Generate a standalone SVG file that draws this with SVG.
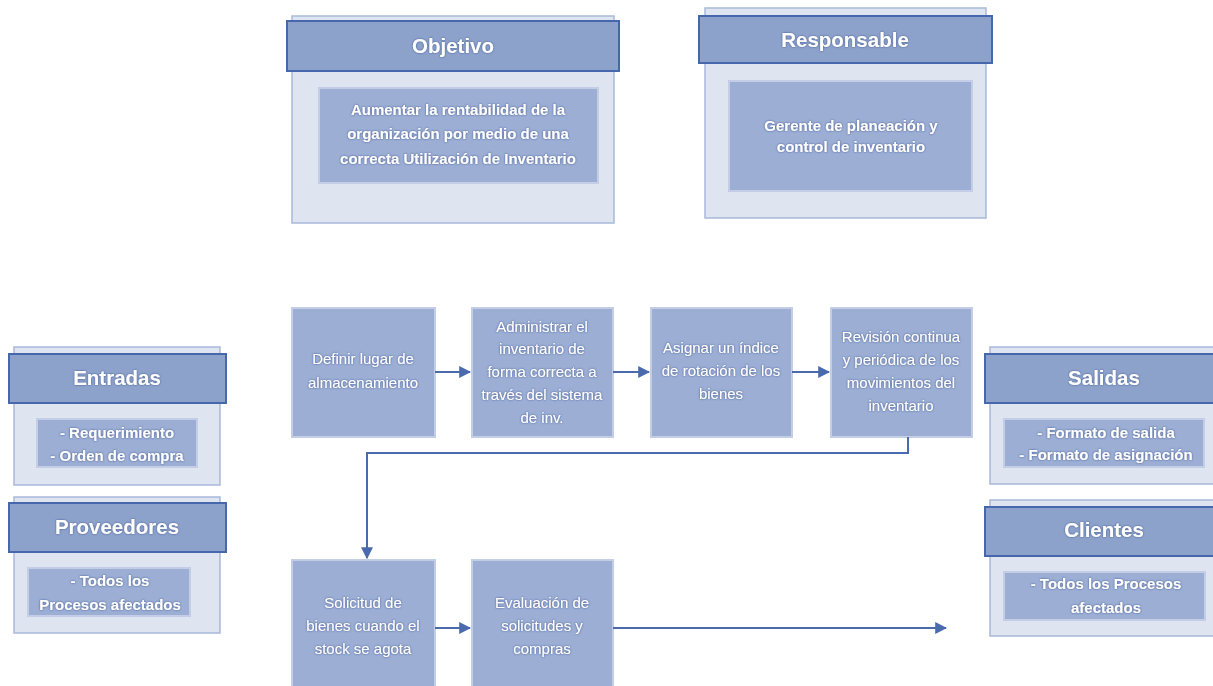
<svg xmlns="http://www.w3.org/2000/svg" width="1213" height="686" viewBox="0 0 1213 686">
<defs>
<style>
.panel{fill:#DEE4F0;stroke:#A9B9DA;stroke-width:1.5}
.head{fill:#8DA2CB;stroke:#4767AC;stroke-width:2}
.inner{fill:#9CAED4;stroke:#C3CEE6;stroke-width:2}
.proc{fill:#9CAED4;stroke:#C3CEE6;stroke-width:2}
.ht{font-family:"Liberation Sans",Arial,sans-serif;font-weight:bold;font-size:20.5px;fill:#fff;text-anchor:middle;filter:url(#sh)}
.it{font-family:"Liberation Sans",Arial,sans-serif;font-weight:bold;font-size:15px;fill:#fff;text-anchor:middle;filter:url(#sh)}
.pt{font-family:"Liberation Sans",Arial,sans-serif;font-size:15px;fill:#fff;text-anchor:middle;filter:url(#sh)}
.ln{fill:none;stroke:#4A6AAE;stroke-width:2}
</style>
<filter id="sh" x="-10%" y="-30%" width="120%" height="160%">
<feDropShadow dx="0" dy="0" stdDeviation="1.3" flood-color="#3B5592" flood-opacity="0.95"/>
</filter>
<marker id="ah" viewBox="0 0 10 10" refX="9" refY="5" markerWidth="6" markerHeight="6" orient="auto" markerUnits="strokeWidth">
<path d="M0,0 L10,5 L0,10 z" fill="#4A6AAE"/>
</marker>
</defs>
<rect width="1213" height="686" fill="#fff"/>

<g id="objetivo">
<rect class="panel" x="292" y="16" width="322" height="207"/>
<rect class="head" x="287" y="21" width="332" height="50"/>
<text class="ht" x="453" y="53">Objetivo</text>
<rect class="inner" x="319" y="88" width="279" height="95"/>
<text class="it" x="458" y="115">Aumentar la rentabilidad de la</text>
<text class="it" x="458" y="139">organización por medio de una</text>
<text class="it" x="458" y="164">correcta Utilización de Inventario</text>
</g>

<g id="responsable">
<rect class="panel" x="705" y="8" width="281" height="210"/>
<rect class="head" x="699" y="16" width="293" height="47"/>
<text class="ht" x="845" y="47">Responsable</text>
<rect class="inner" x="729" y="81" width="243" height="110"/>
<text class="it" x="851" y="131">Gerente de planeación y</text>
<text class="it" x="851" y="152">control de inventario</text>
</g>

<g id="entradas">
<rect class="panel" x="14" y="347" width="206" height="138"/>
<rect class="head" x="9" y="354" width="217" height="49"/>
<text class="ht" x="117" y="385">Entradas</text>
<rect class="inner" x="37" y="419" width="160" height="48"/>
<text class="it" x="117" y="438">- Requerimiento</text>
<text class="it" x="117" y="461">- Orden de compra</text>
</g>

<g id="proveedores">
<rect class="panel" x="14" y="497" width="206" height="136"/>
<rect class="head" x="9" y="503" width="217" height="49"/>
<text class="ht" x="117" y="534">Proveedores</text>
<rect class="inner" x="28" y="568" width="162" height="48"/>
<text class="it" x="110" y="586">- Todos los</text>
<text class="it" x="110" y="610">Procesos afectados</text>
</g>

<g id="salidas">
<rect class="panel" x="990" y="347" width="230" height="137"/>
<rect class="head" x="985" y="354" width="235" height="49"/>
<text class="ht" x="1104" y="385">Salidas</text>
<rect class="inner" x="1004" y="419" width="200" height="48"/>
<text class="it" x="1106" y="438">- Formato de salida</text>
<text class="it" x="1106" y="460">- Formato de asignación</text>
</g>

<g id="clientes">
<rect class="panel" x="990" y="500" width="230" height="136"/>
<rect class="head" x="985" y="507" width="235" height="49"/>
<text class="ht" x="1104" y="537">Clientes</text>
<rect class="inner" x="1004" y="572" width="201" height="48"/>
<text class="it" x="1106" y="589">- Todos los Procesos</text>
<text class="it" x="1106" y="613">afectados</text>
</g>

<g id="p1">
<rect class="proc" x="292" y="308" width="143" height="129"/>
<text class="pt" x="363" y="364">Definir lugar de</text>
<text class="pt" x="363" y="388">almacenamiento</text>
</g>
<g id="p2">
<rect class="proc" x="472" y="308" width="141" height="129"/>
<text class="pt" x="542" y="332">Administrar el</text>
<text class="pt" x="542" y="354">inventario de</text>
<text class="pt" x="542" y="377">forma correcta a</text>
<text class="pt" x="542" y="400">través del sistema</text>
<text class="pt" x="542" y="423">de inv.</text>
</g>
<g id="p3">
<rect class="proc" x="651" y="308" width="141" height="129"/>
<text class="pt" x="721" y="353">Asignar un índice</text>
<text class="pt" x="721" y="376">de rotación de los</text>
<text class="pt" x="721" y="399">bienes</text>
</g>
<g id="p4">
<rect class="proc" x="831" y="308" width="141" height="129"/>
<text class="pt" x="901" y="342">Revisión continua</text>
<text class="pt" x="901" y="365">y periódica de los</text>
<text class="pt" x="901" y="388">movimientos del</text>
<text class="pt" x="901" y="411">inventario</text>
</g>
<g id="p5">
<rect class="proc" x="292" y="560" width="143" height="130"/>
<text class="pt" x="363" y="608">Solicitud de</text>
<text class="pt" x="363" y="631">bienes cuando el</text>
<text class="pt" x="363" y="654">stock se agota</text>
</g>
<g id="p6">
<rect class="proc" x="472" y="560" width="141" height="130"/>
<text class="pt" x="542" y="608">Evaluación de</text>
<text class="pt" x="542" y="631">solicitudes y</text>
<text class="pt" x="542" y="654">compras</text>
</g>

<g id="connectors">
<line class="ln" x1="435" y1="372" x2="470" y2="372" marker-end="url(#ah)"/>
<line class="ln" x1="613" y1="372" x2="649" y2="372" marker-end="url(#ah)"/>
<line class="ln" x1="792" y1="372" x2="829" y2="372" marker-end="url(#ah)"/>
<polyline class="ln" points="908,437 908,453 367,453 367,558" marker-end="url(#ah)"/>
<line class="ln" x1="435" y1="628" x2="470" y2="628" marker-end="url(#ah)"/>
<line class="ln" x1="613" y1="628" x2="946" y2="628" marker-end="url(#ah)"/>
</g>
</svg>
